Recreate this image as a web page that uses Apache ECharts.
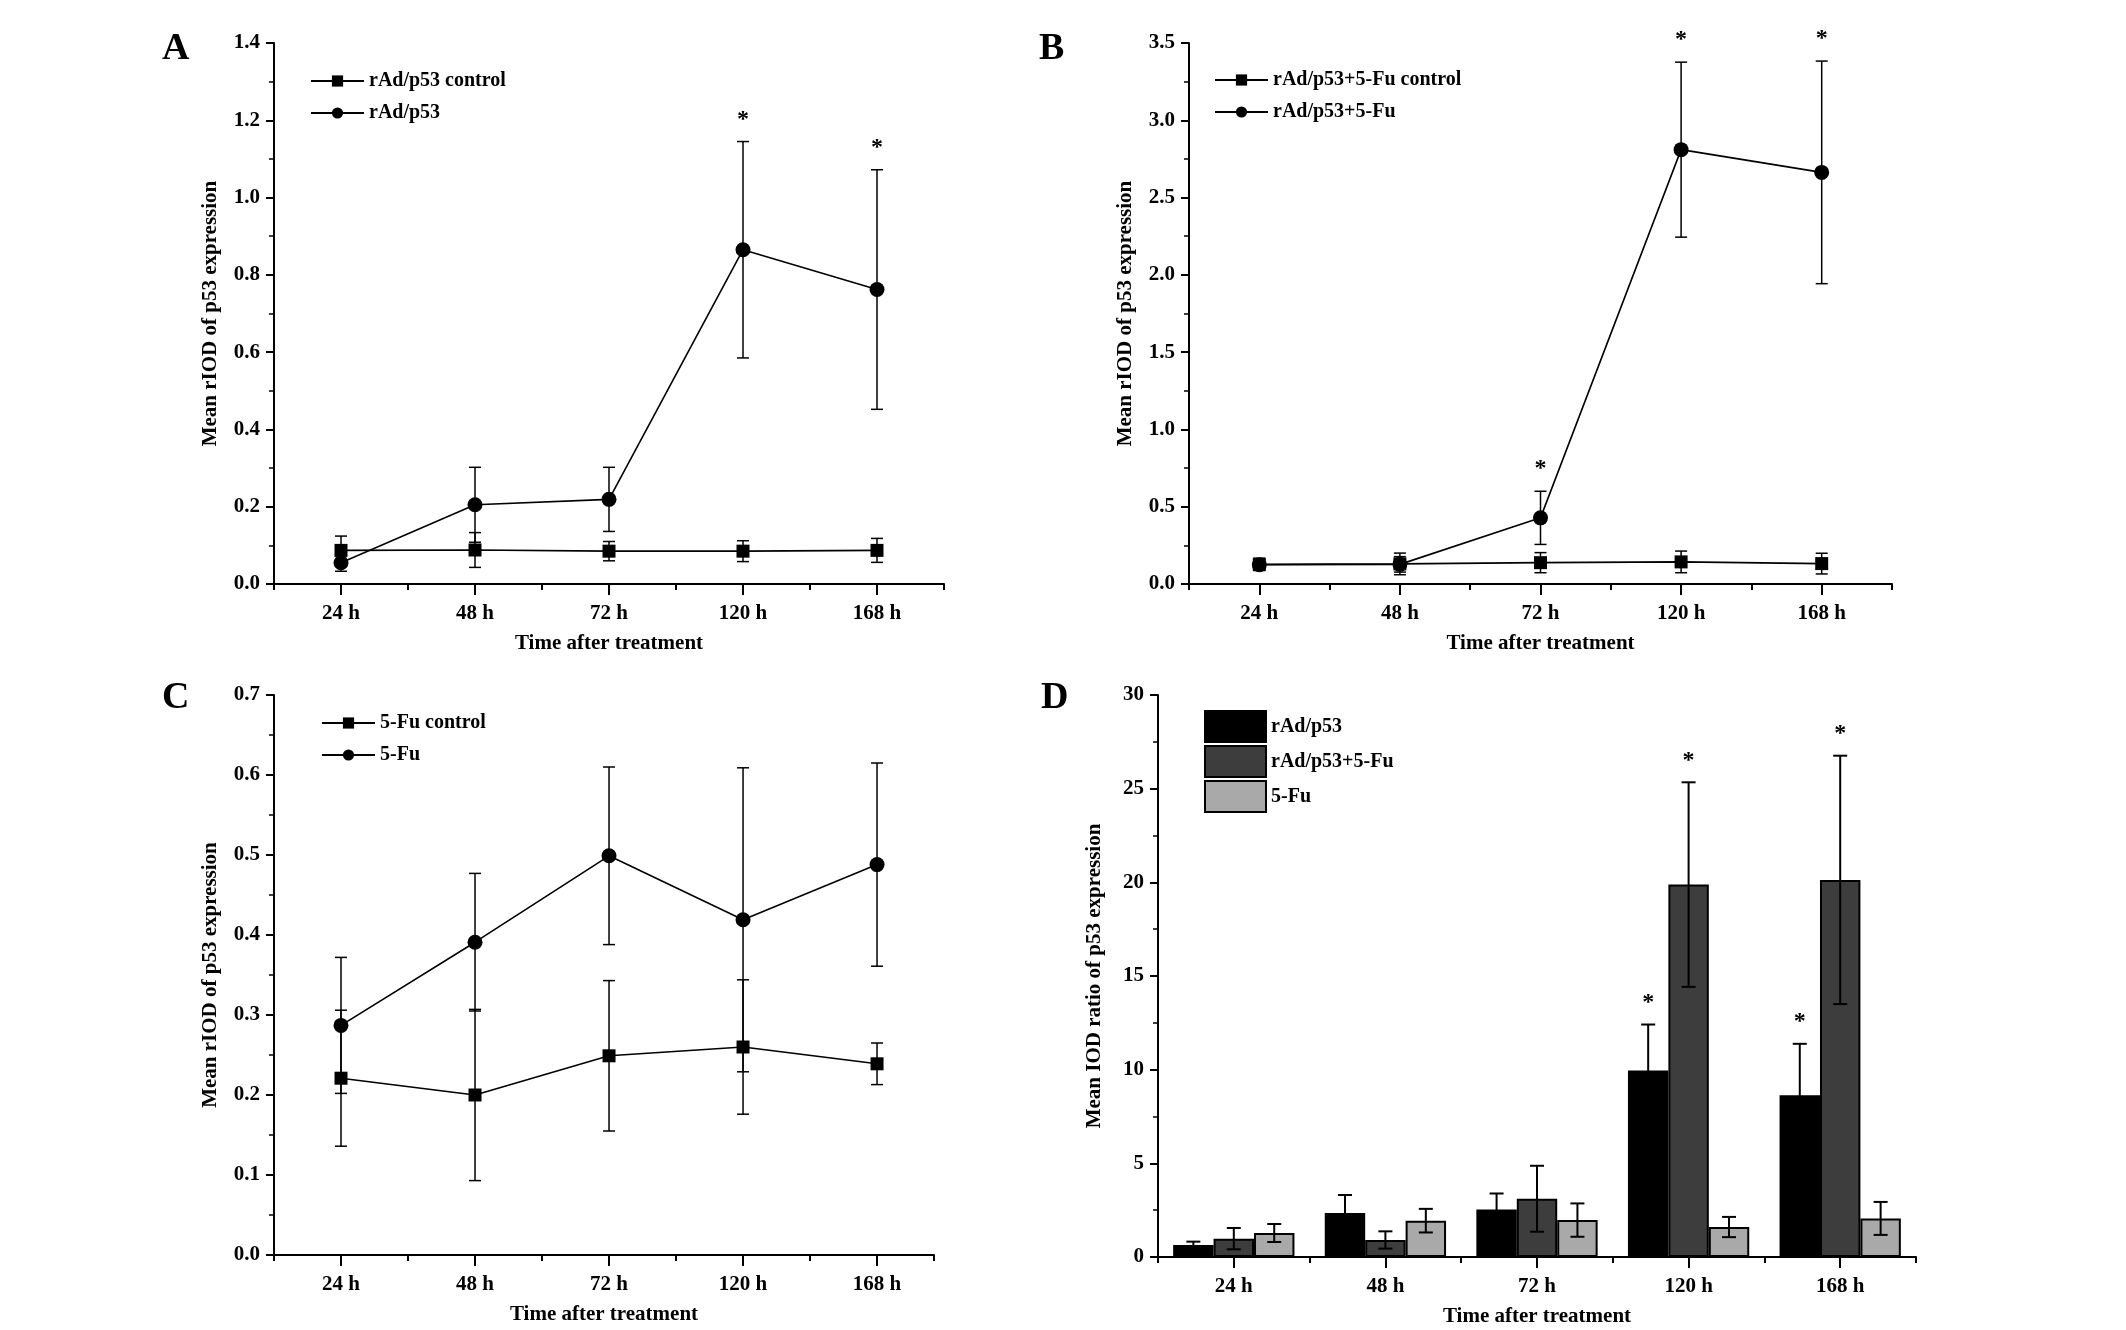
<!DOCTYPE html>
<html>
<head>
<meta charset="utf-8">
<script src="https://cdn.jsdelivr.net/npm/echarts@6/dist/echarts.min.js"></script>
<style>html,body{margin:0;padding:0;background:#fff;}#c{width:2126px;height:1330px;}</style>
</head>
<body>
<div id="c"></div>
<script>
// ---------- data ----------
const categories = ['24 h', '48 h', '72 h', '120 h', '168 h'];

// Panel A
const aControl    = [0.087, 0.088, 0.085, 0.085, 0.087];
const aControlErr = [0.037, 0.045, 0.025, 0.027, 0.031];
const aTreat      = [0.055, 0.205, 0.219, 0.865, 0.762];
const aTreatErr   = [0.022, 0.097, 0.083, 0.280, 0.310];
const aSig        = [0, 0, 0, 1, 1];

// Panel B
const bControl    = [0.127, 0.130, 0.138, 0.143, 0.132];
const bControlErr = [0.040, 0.070, 0.065, 0.070, 0.067];
const bTreat      = [0.125, 0.127, 0.428, 2.810, 2.663];
const bTreatErr   = [0.030, 0.050, 0.172, 0.566, 0.720];
const bSig        = [0, 0, 1, 1, 1];

// Panel C
const cControl    = [0.221, 0.200, 0.249, 0.260, 0.239];
const cControlErr = [0.085, 0.107, 0.094, 0.084, 0.026];
const cTreat      = [0.287, 0.391, 0.499, 0.419, 0.488];
const cTreatErr   = [0.085, 0.086, 0.111, 0.190, 0.127];

// Panel D
const dRad        = [0.64, 2.35, 2.54, 9.96, 8.64];
const dRadErr     = [0.18, 0.96, 0.85, 2.45, 2.74];
const dRad5       = [0.98, 0.91, 3.11, 19.88, 20.13];
const dRad5Err    = [0.57, 0.46, 1.76, 5.46, 6.63];
const d5fu        = [1.28, 1.94, 1.97, 1.60, 2.06];
const d5fuErr     = [0.48, 0.63, 0.89, 0.54, 0.88];
const dRadSig     = [0, 0, 0, 1, 1];
const dRad5Sig    = [0, 0, 0, 1, 1];
const d5fuSig     = [0, 0, 0, 0, 0];

// Axis tick settings
const yMaxA = 1.4, yStepA = 0.2;
const yMaxB = 3.5, yStepB = 0.5;
const yMaxC = 0.7, yStepC = 0.1;
const yMaxD = 30,  yStepD = 5;
const cXMin = 0.5, cXMax = 5.425;       // panel C time axis (category positions 1..5)
const cXPositions = [1, 2, 3, 4, 5];

// ---------- chart ----------
const FONT = 'Liberation Serif';
const txt = (size) => ({ color: '#000', fontFamily: FONT, fontWeight: 'bold', fontSize: size });
const MAJOR = 11, MINOR = 6;

const grids = [
  { left: 274,  top: 43,  width: 670, height: 541 },
  { left: 1189, top: 43,  width: 703, height: 541 },
  { left: 274,  top: 695, width: 660, height: 560 },
  { left: 1158, top: 695, width: 758, height: 562 }
];

const xName = { name: 'Time after treatment', nameLocation: 'middle', nameGap: 49, nameTextStyle: txt(21) };
const xAxes = [];
[0, 1, 2, 3].forEach(i => {
  if (i === 2) {
    xAxes.push(Object.assign({
      type: 'value', gridIndex: i, min: cXMin, max: cXMax, position: 'bottom', offset: 0,
      axisLine: { show: true, onZero: false, lineStyle: { color: '#000', width: 2 } },
      axisTick: { show: true, customValues: cXPositions, length: MAJOR, lineStyle: { color: '#000', width: 2 } },
      axisLabel: Object.assign({ customValues: cXPositions, margin: 19,
        formatter: v => categories[Math.round(v) - 1] || '' }, txt(21)),
      splitLine: { show: false }
    }, xName));
    xAxes.push({
      type: 'value', gridIndex: i, min: cXMin, max: cXMax, interval: 1, position: 'bottom', offset: 0,
      axisLine: { show: false, onZero: false },
      axisTick: { show: true, length: MINOR, lineStyle: { color: '#000', width: 2 } },
      axisLabel: { show: false },
      splitLine: { show: false }
    });
    return;
  }
  xAxes.push(Object.assign({
    type: 'category', gridIndex: i, data: categories, boundaryGap: true, position: 'bottom', offset: 0,
    axisLine: { lineStyle: { color: '#000', width: 2 } },
    axisTick: { show: true, interval: 0, length: MINOR, alignWithLabel: false, lineStyle: { color: '#000', width: 2 } },
    axisLabel: Object.assign({ interval: 0, margin: 19 }, txt(21)),
    splitLine: { show: false }
  }, xName));
  xAxes.push({
    type: 'category', gridIndex: i, data: categories, boundaryGap: true, position: 'bottom', offset: 0,
    axisLine: { show: false },
    axisTick: { show: true, interval: 0, length: MAJOR, alignWithLabel: true, lineStyle: { color: '#000', width: 2 } },
    axisLabel: { show: false },
    splitLine: { show: false }
  });
});

function mkY(i, max, step, name, dec) {
  return {
    type: 'value', gridIndex: i, min: 0, max: max, interval: step,
    axisLine: { show: true, lineStyle: { color: '#000', width: 2 } },
    axisTick: { show: true, length: 8, lineStyle: { color: '#000', width: 2 } },
    minorTick: { show: true, splitNumber: 2, length: 5, lineStyle: { color: '#000', width: 1.5 } },
    splitLine: { show: false }, minorSplitLine: { show: false },
    axisLabel: Object.assign({ margin: 14, formatter: v => v.toFixed(dec) }, txt(21)),
    name: name, nameLocation: 'middle', nameGap: 53, nameTextStyle: txt(21)
  };
}
const yAxes = [
  mkY(0, yMaxA, yStepA, 'Mean rIOD of p53 expression', 1),
  mkY(1, yMaxB, yStepB, 'Mean rIOD of p53 expression', 1),
  mkY(2, yMaxC, yStepC, 'Mean rIOD of p53 expression', 1),
  mkY(3, yMaxD, yStepD, 'Mean IOD ratio of p53 expression', 0)
];

// x position of each point: category index, or numeric position for the value-typed C axis
const xPos = (gi, i) => gi === 2 ? cXPositions[i] : i;

function lineSeries(name, gi, vals, symbol, size) {
  return {
    type: 'line', name: name, xAxisIndex: gi * 2, yAxisIndex: gi,
    data: vals.map((v, i) => [xPos(gi, i), v]),
    symbol: symbol, symbolSize: size, showSymbol: true,
    lineStyle: { color: '#000', width: 1.6 }, itemStyle: { color: '#000' },
    z: 3, animation: false
  };
}

// error bars (and significance stars) drawn through the axis scales
function errSeries(gi, vals, errs, sig, slot, nSlots, capHalf, lw) {
  return {
    type: 'custom', xAxisIndex: gi * 2, yAxisIndex: gi, z: 5, animation: false, clip: false,
    data: vals.map((v, i) => [xPos(gi, i), v, errs[i], sig ? sig[i] : 0]),
    encode: { x: 0, y: 1 },
    renderItem: function (params, api) {
      const xv = api.value(0), v = api.value(1), e = api.value(2), s = api.value(3);
      let off = 0;
      if (nSlots > 1) {
        const band = api.size([1, 0])[0];
        const bw = band * 0.8 / nSlots;
        off = (slot - (nSlots - 1) / 2) * bw;
      }
      const hi = api.coord([xv, v + e]);
      const lo = api.coord([xv, Math.max(0, v - e)]);
      const x = hi[0] + off;
      const st = { stroke: '#000', lineWidth: lw };
      const children = [
        { type: 'line', shape: { x1: x, y1: hi[1], x2: x, y2: lo[1] }, style: st },
        { type: 'line', shape: { x1: x - capHalf, y1: hi[1], x2: x + capHalf, y2: hi[1] }, style: st },
        { type: 'line', shape: { x1: x - capHalf, y1: lo[1], x2: x + capHalf, y2: lo[1] }, style: st }
      ];
      if (s) {
        children.push({ type: 'text', style: { x: x, y: hi[1] - 22, text: '*', align: 'center', verticalAlign: 'middle',
          fill: '#000', font: 'bold 24px "' + FONT + '"' } });
      }
      return { type: 'group', children: children };
    }
  };
}

function barSeries(name, vals, color) {
  return {
    type: 'bar', name: name, xAxisIndex: 6, yAxisIndex: 3, data: vals,
    barGap: '0%', barCategoryGap: '20%',
    itemStyle: { color: color, borderColor: '#000', borderWidth: 2 },
    animation: false, z: 2
  };
}

const series = [
  lineSeries('rAd/p53 control', 0, aControl, 'rect', 13),
  lineSeries('rAd/p53', 0, aTreat, 'circle', 15),
  errSeries(0, aControl, aControlErr, null, 0, 1, 6, 1.5),
  errSeries(0, aTreat, aTreatErr, aSig, 0, 1, 6, 1.5),

  lineSeries('rAd/p53+5-Fu control', 1, bControl, 'rect', 13),
  lineSeries('rAd/p53+5-Fu', 1, bTreat, 'circle', 15),
  errSeries(1, bControl, bControlErr, null, 0, 1, 6, 1.5),
  errSeries(1, bTreat, bTreatErr, bSig, 0, 1, 6, 1.5),

  lineSeries('5-Fu control', 2, cControl, 'rect', 13),
  lineSeries('5-Fu', 2, cTreat, 'circle', 15),
  errSeries(2, cControl, cControlErr, null, 0, 1, 6, 1.5),
  errSeries(2, cTreat, cTreatErr, null, 0, 1, 6, 1.5),

  barSeries('rAd/p53 ', dRad, '#000000'),
  barSeries('rAd/p53+5-Fu ', dRad5, '#3d3d3d'),
  barSeries('5-Fu ', d5fu, '#a9a9a9'),
  errSeries(3, dRad, dRadErr, dRadSig, 0, 3, 7, 2),
  errSeries(3, dRad5, dRad5Err, dRad5Sig, 1, 3, 7, 2),
  errSeries(3, d5fu, d5fuErr, d5fuSig, 2, 3, 7, 2)
];

function lineLegend(names, left, top) {
  return {
    data: names, orient: 'vertical', left: left, top: top,
    itemWidth: 53, itemHeight: 14, itemGap: 12, itemStyle: { color: '#000' },
    textStyle: txt(20), selectedMode: false
  };
}

const option = {
  backgroundColor: '#fff',
  animation: false,
  grid: grids,
  xAxis: xAxes,
  yAxis: yAxes,
  legend: [
    lineLegend(['rAd/p53 control', 'rAd/p53'], 305, 66),
    lineLegend(['rAd/p53+5-Fu control', 'rAd/p53+5-Fu'], 1209, 65),
    lineLegend(['5-Fu control', '5-Fu'], 316, 708),
    {
      data: ['rAd/p53 ', 'rAd/p53+5-Fu ', '5-Fu '], orient: 'vertical', left: 1199, top: 705,
      itemWidth: 61, itemHeight: 31, itemGap: 2, icon: 'rect',
      textStyle: txt(20), selectedMode: false
    }
  ],
  graphic: [
    { type: 'text', left: 162, top: 30, style: { text: 'A', font: 'bold 38px "' + FONT + '"', fill: '#000' } },
    { type: 'text', left: 1039, top: 30, style: { text: 'B', font: 'bold 38px "' + FONT + '"', fill: '#000' } },
    { type: 'text', left: 162, top: 679, style: { text: 'C', font: 'bold 38px "' + FONT + '"', fill: '#000' } },
    { type: 'text', left: 1041, top: 679, style: { text: 'D', font: 'bold 38px "' + FONT + '"', fill: '#000' } }
  ],
  series: series
};

const chart = echarts.init(document.getElementById('c'), null, { renderer: 'canvas' });
chart.setOption(option);
</script>
</body>
</html>
